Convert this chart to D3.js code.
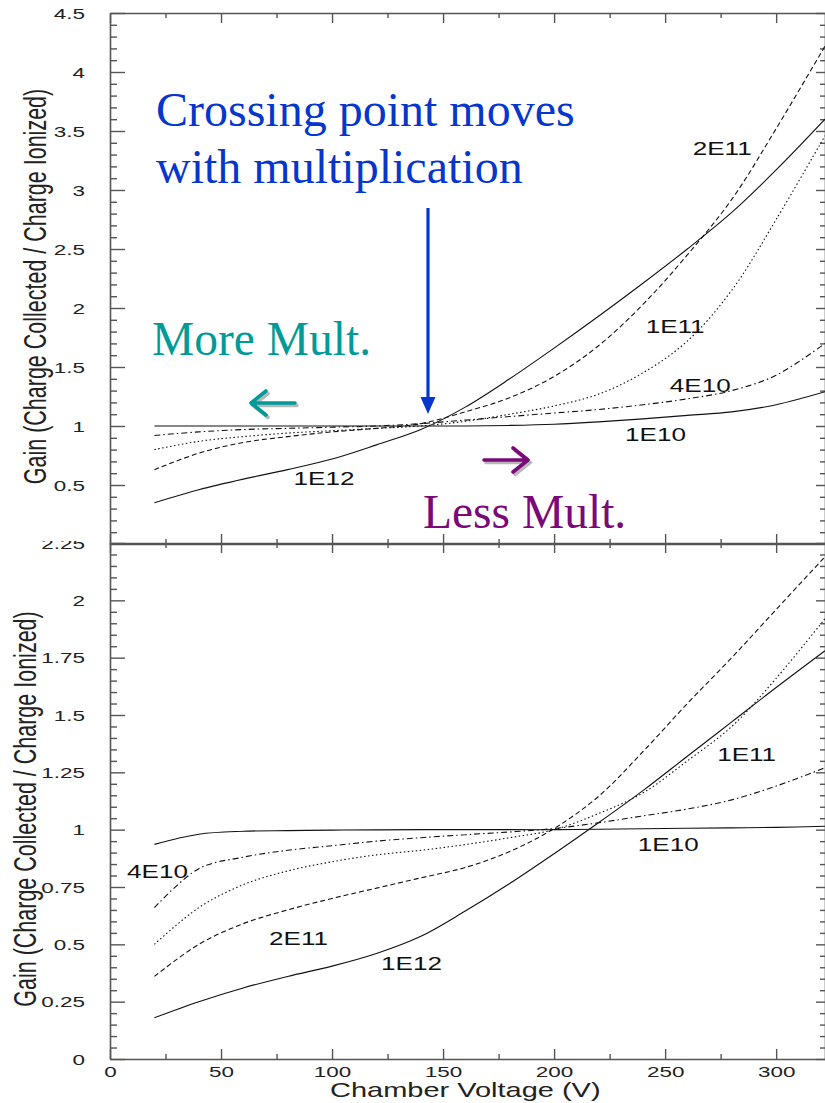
<!DOCTYPE html>
<html><head><meta charset="utf-8">
<script src="https://cdn.jsdelivr.net/npm/d3@7"></script>
<style>body{margin:0;background:#fff;} svg{display:block;}</style>
</head><body>
<svg id="c" width="825" height="1103"></svg>
<script>
// ---------- data ----------
const voltage = [20,40,60,80,100,120,140,160,180,200,220,240,260,280,300,322];
const seriesNames = ["1E10","4E10","1E11","2E11","1E12"];

// top panel
const top1E10 = [1.00,1.00,1.00,1.00,1.00,1.00,1.00,1.00,1.005,1.015,1.035,1.06,1.09,1.12,1.18,1.29];
const top4E10 = [0.92,0.95,0.97,0.98,0.99,1.00,1.02,1.05,1.08,1.11,1.14,1.18,1.23,1.30,1.43,1.70];
const top1E11 = [0.80,0.87,0.91,0.94,0.96,0.98,1.00,1.04,1.10,1.17,1.27,1.45,1.72,2.15,2.75,3.46];
const top2E11 = [0.63,0.77,0.86,0.91,0.95,0.98,1.02,1.12,1.24,1.42,1.68,2.03,2.45,2.92,3.52,4.22];
const top1E12 = [0.35,0.46,0.55,0.63,0.72,0.84,0.97,1.16,1.40,1.66,1.93,2.21,2.50,2.81,3.17,3.60];

// bottom panel
const bot1E10 = [0.936,0.98,0.993,0.996,0.998,0.999,1.0,1.0,1.0,1.0,1.002,1.004,1.006,1.008,1.01,1.015];
const bot4E10 = [0.66,0.83,0.88,0.91,0.93,0.95,0.965,0.978,0.99,1.005,1.03,1.06,1.09,1.13,1.19,1.27];
const bot1E11 = [0.50,0.66,0.76,0.82,0.86,0.89,0.91,0.935,0.965,1.00,1.07,1.16,1.30,1.45,1.66,1.92];
const bot2E11 = [0.36,0.50,0.59,0.65,0.70,0.745,0.79,0.835,0.905,1.005,1.145,1.34,1.55,1.75,1.96,2.19];
const bot1E12 = [0.18,0.25,0.31,0.36,0.405,0.46,0.535,0.645,0.765,0.895,1.03,1.17,1.32,1.47,1.62,1.78];

// curve labels (voltage, gain at text baseline)
const topLabels = [
  {t:"2E11", v:275.7, g:3.30},
  {t:"1E11", v:254.5, g:1.79},
  {t:"4E10", v:265.8, g:1.29},
  {t:"1E10", v:245.7, g:0.873},
  {t:"1E12", v:96.4,  g:0.50}
];
const botLabels = [
  {t:"4E10", v:21.4,  g:0.788},
  {t:"2E11", v:84.9,  g:0.497},
  {t:"1E12", v:135.8, g:0.388},
  {t:"1E11", v:286.7, g:1.298},
  {t:"1E10", v:251.4, g:0.906}
];

const yMajorTop = [0.5,1,1.5,2,2.5,3,3.5,4,4.5];
const yMajorBot = [0,0.25,0.5,0.75,1,1.25,1.5,1.75,2,2.25];
const xMajor = [0,50,100,150,200,250,300];
const xMinor = [25,75,125,175,225,275];

const dashes = {"1E10":null, "4E10":"6,3,1.5,3", "1E11":"1.5,2.5", "2E11":"5,3", "1E12":null};

// ---------- drawing ----------
const svg = d3.select("#c");
const SX = 1.45; // horizontal stretch of the original plot text
const FONT = "Liberation Sans, Arial, sans-serif";
const x = d3.scaleLinear().domain([0,322]).range([110,825]);
const yTop = d3.scaleLinear().domain([0,4.5]).range([544,13]);
const yBot = d3.scaleLinear().domain([0,2.25]).range([1059,543]);

svg.append("rect").attr("width",825).attr("height",1103).attr("fill","#fff");
svg.append("defs").append("clipPath").attr("id","plotclip")
  .append("rect").attr("x",110).attr("y",0).attr("width",715).attr("height",1103);

function stretchText(sel, anchor){
  sel.each(function(){
    const t = d3.select(this);
    const tx = +t.attr("x") || 0, ty = +t.attr("y") || 0;
    t.attr("x",0).attr("y",0)
     .attr("transform",`translate(${tx},${ty}) scale(${SX},1)`)
     .attr("text-anchor",anchor);
  });
}

function panel(y, series, labels, yMajor, yMinorStep, yMax, showXLabels, titleX){
  const g = svg.append("g");
  const [y0, y1] = y.range(); // bottom, top

  const yMinor = d3.range(0, Math.round(yMax/yMinorStep)+1).map(i=>+(i*yMinorStep).toFixed(3))
      .filter(v => !yMajor.includes(v) && !(v===0));
  const style = a => a.selectAll("path.domain").attr("stroke","#555").attr("stroke-width",1.6);
  const tickStyle = a => a.selectAll(".tick line").attr("stroke","#555").attr("stroke-width",1.4);

  // left axis
  const la = g.append("g").attr("transform",`translate(${x(0)},0)`)
    .call(d3.axisLeft(y).tickValues(yMajor).tickSizeInner(-15).tickSizeOuter(0).tickPadding(25).tickFormat(d=>String(d)));
  style(la); tickStyle(la);
  la.selectAll("text").attr("font-family",FONT).attr("font-size",15.5).attr("fill","#222")
    .attr("dy",null).attr("dominant-baseline","central");
  stretchText(la.selectAll("text"),"end");
  const lm = g.append("g").attr("transform",`translate(${x(0)},0)`)
    .call(d3.axisLeft(y).tickValues(yMinor).tickSizeInner(-7).tickSizeOuter(0).tickFormat(""));
  lm.select("path.domain").remove(); tickStyle(lm);

  // right axis
  const ra = g.append("g").attr("transform",`translate(${x(322)},0)`)
    .call(d3.axisRight(y).tickValues(yMajor).tickSizeInner(-9).tickSizeOuter(0).tickFormat(""));
  style(ra); tickStyle(ra);
  const rm = g.append("g").attr("transform",`translate(${x(322)},0)`)
    .call(d3.axisRight(y).tickValues(yMinor).tickSizeInner(-5).tickSizeOuter(0).tickFormat(""));
  rm.select("path.domain").remove(); tickStyle(rm);

  // top axis
  const ta = g.append("g").attr("transform",`translate(0,${y1})`)
    .call(d3.axisTop(x).tickValues(xMajor).tickSizeInner(-10).tickSizeOuter(0).tickFormat(""));
  style(ta); tickStyle(ta);
  const tm = g.append("g").attr("transform",`translate(0,${y1})`)
    .call(d3.axisTop(x).tickValues(xMinor).tickSizeInner(-5).tickSizeOuter(0).tickFormat(""));
  tm.select("path.domain").remove(); tickStyle(tm);

  // bottom axis
  const ba = g.append("g").attr("transform",`translate(0,${y0})`)
    .call(d3.axisBottom(x).tickValues(xMajor).tickSizeInner(-10).tickSizeOuter(0).tickPadding(7)
      .tickFormat(showXLabels ? d=>String(d) : ""));
  style(ba); tickStyle(ba);
  ba.selectAll("text").attr("font-family",FONT).attr("font-size",15.5).attr("fill","#222");
  if (showXLabels) stretchText(ba.selectAll("text"),"middle");
  const bm = g.append("g").attr("transform",`translate(0,${y0})`)
    .call(d3.axisBottom(x).tickValues(xMinor).tickSizeInner(-5).tickSizeOuter(0).tickFormat(""));
  bm.select("path.domain").remove(); tickStyle(bm);

  // curves
  const line = d3.line().x((d,i)=>x(voltage[i])).y(d=>y(d)).curve(d3.curveCatmullRom.alpha(0.5));
  const lg = g.append("g").attr("clip-path","url(#plotclip)");
  seriesNames.forEach(name=>{
    lg.append("path").datum(series[name]).attr("d",line)
      .attr("fill","none").attr("stroke","#111").attr("stroke-width",1.1)
      .attr("stroke-dasharray",dashes[name]);
  });

  // curve labels
  g.selectAll("text.cl").data(labels).enter().append("text").attr("class","cl")
    .attr("font-family",FONT).attr("font-size",18).attr("fill","#111")
    .attr("text-anchor","middle")
    .attr("transform",d=>`translate(${x(d.v)},${y(d.g)}) scale(${SX},1)`)
    .text(d=>d.t);

  // y title
  g.append("text").attr("font-family",FONT).attr("font-size",21.5).attr("fill","#222")
    .attr("text-anchor","middle").attr("dominant-baseline","central")
    .attr("transform",`translate(${titleX},${(y0+y1)/2 + 8}) scale(${SX},1) rotate(-90)`)
    .text("Gain (Charge Collected / Charge Ionized)");
  return g;
}

// bottom panel first
panel(yBot, {"1E10":bot1E10,"4E10":bot4E10,"1E11":bot1E11,"2E11":bot2E11,"1E12":bot1E12},
      botLabels, yMajorBot, 0.05, 2.25, true, 26);

svg.append("text").attr("font-family",FONT).attr("font-size",20).attr("fill","#222")
  .attr("text-anchor","middle")
  .attr("transform",`translate(${x(160)},1097) scale(${SX},1)`)
  .text("Chamber Voltage (V)");

// top panel covers the very top of the lower one
svg.append("rect").attr("x",0).attr("y",0).attr("width",825).attr("height",541).attr("fill","#fff");
panel(yTop, {"1E10":top1E10,"4E10":top4E10,"1E11":top1E11,"2E11":top2E11,"1E12":top1E12},
      topLabels, yMajorTop, 0.1, 4.5, false, 36);

// ---------- annotations ----------
const SERIF = "Liberation Serif, Times New Roman, serif";
const blue = "#0636cc", teal = "#009b98", purple = "#7a0a78";
const ann = svg.append("g").attr("font-family",SERIF).attr("font-size",48);
ann.append("text").attr("x",156).attr("y",126).attr("fill",blue).text("Crossing point moves");
ann.append("text").attr("x",156).attr("y",183).attr("fill",blue).text("with multiplication");
ann.append("text").attr("x",152).attr("y",355).attr("fill",teal).attr("font-size",47.5).text("More Mult.");
ann.append("text").attr("x",423).attr("y",528).attr("fill",purple).attr("font-size",47.5).text("Less Mult.");

// blue down arrow
ann.append("line").attr("x1",428).attr("y1",208).attr("x2",428).attr("y2",400)
  .attr("stroke",blue).attr("stroke-width",3.2);
ann.append("path").attr("d","M420.5,397 L435.5,397 L428,414 Z").attr("fill",blue);

function chevArrow(x1,x2,yy,dir,color){
  // dir = -1 pointing left, +1 pointing right; tip at x2
  const p = `M${x1},${yy} L${x2},${yy} M${x2 - dir*15},${yy-12} L${x2},${yy} L${x2 - dir*15},${yy+12}`;
  ann.append("path").attr("d",p).attr("transform","translate(2,2.5)")
    .attr("fill","none").attr("stroke","#b8b8b8").attr("stroke-width",3.6).attr("stroke-linecap","round");
  ann.append("path").attr("d",p)
    .attr("fill","none").attr("stroke",color).attr("stroke-width",3.6).attr("stroke-linecap","round").attr("stroke-linejoin","round");
}
chevArrow(295,251,403,-1,teal);
chevArrow(484,528,460,1,purple);
</script>
</body></html>
